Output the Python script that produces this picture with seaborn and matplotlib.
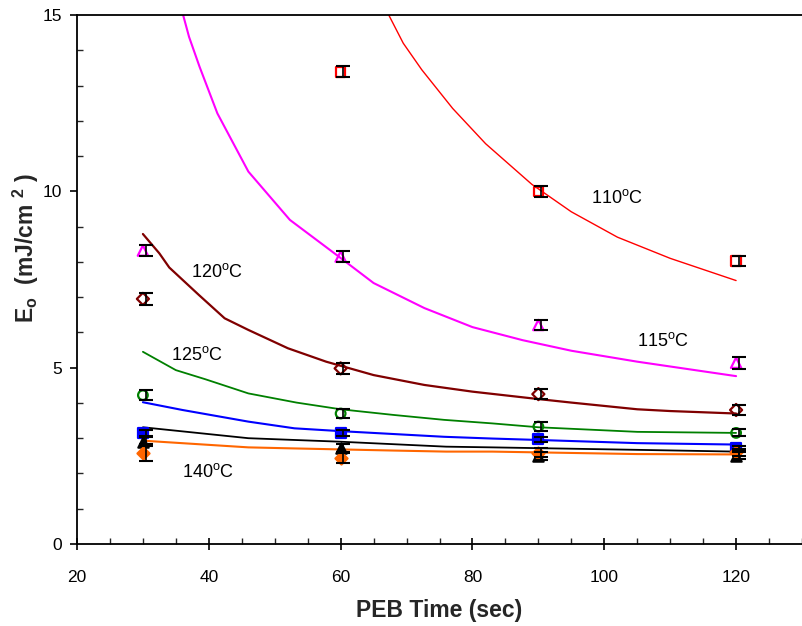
import numpy as np
import pandas as pd
import matplotlib
matplotlib.use("Agg")
import matplotlib.pyplot as plt
from matplotlib.ticker import MultipleLocator
import seaborn as sns

# ---------------- data ----------------
peb_time = [30, 60, 90, 120]

# measured points (mJ/cm2) and error half-widths
e110 = [np.nan, 13.39, 9.99, 8.02]
e115 = [8.32, 8.15, 6.21, 5.14]
e120 = [6.95, 4.98, 4.25, 3.80]
e125 = [4.22, 3.70, 3.33, 3.15]
e130 = [3.14, 3.14, 2.97, 2.72]
e135 = [2.90, 2.71, 2.50, 2.50]
e140 = [2.59, 2.45, 2.59, 2.60]

err110 = [0.0, 0.15, 0.15, 0.15]
err115 = [0.15, 0.16, 0.15, 0.17]
err120 = [0.16, 0.15, 0.15, 0.14]
err125 = [0.15, 0.14, 0.14, 0.10]
err130 = [0.08, 0.08, 0.07, 0.07]
err135 = [0.12, 0.12, 0.12, 0.10]
err140 = [0.25, 0.15, 0.12, 0.10]

# fitted curves
fit110_t = [67.3, 69.5, 72.3, 77.0, 82.0, 89.0, 95.0, 102.0, 110.0, 120.0]
fit110_e = [15.0, 14.2, 13.45, 12.35, 11.35, 10.2, 9.42, 8.7, 8.1, 7.47]
fit115_t = [36.1, 37.0, 38.6, 41.3, 46.0, 52.3, 60.0, 65.0, 72.7, 80.0, 87.6, 95.0, 105.0, 120.0]
fit115_e = [15.0, 14.38, 13.53, 12.21, 10.56, 9.19, 8.11, 7.40, 6.69, 6.15, 5.78, 5.48, 5.17, 4.76]
fit120_t = [30.0, 32.5, 34.0, 38.5, 42.4, 46.0, 52.0, 57.8, 65.0, 72.7, 80.0, 89.5, 95.0, 105.0, 110.0, 120.0]
fit120_e = [8.79, 8.24, 7.84, 7.06, 6.40, 6.07, 5.55, 5.17, 4.79, 4.51, 4.32, 4.12, 4.01, 3.82, 3.77, 3.70]
fit125_t = [30.0, 35.0, 39.5, 46.0, 53.3, 60.0, 68.0, 75.7, 83.0, 90.0, 105.0, 120.0]
fit125_e = [5.45, 4.93, 4.67, 4.27, 4.01, 3.82, 3.66, 3.52, 3.42, 3.31, 3.18, 3.15]
fit130_t = [30.0, 36.0, 46.0, 53.0, 60.0, 75.7, 83.0, 90.0, 105.0, 120.0]
fit130_e = [4.02, 3.80, 3.47, 3.28, 3.20, 3.04, 2.99, 2.95, 2.86, 2.82]
fit135_t = [30.0, 46.0, 53.0, 60.0, 76.0, 83.0, 105.0, 120.0]
fit135_e = [3.31, 3.00, 2.95, 2.90, 2.76, 2.74, 2.67, 2.62]
fit140_t = [30.0, 46.0, 53.0, 68.0, 76.0, 83.0, 105.0, 120.0]
fit140_e = [2.93, 2.74, 2.71, 2.65, 2.62, 2.62, 2.55, 2.54]

labels = ["110\u00baC", "115\u00baC", "120\u00baC", "125\u00baC", "140\u00baC"]

# ---------------- style ----------------
sns.set_theme(style="ticks")
plt.rcParams['font.family'] = ['Liberation Sans', 'DejaVu Sans']
plt.rcParams['mathtext.fontset'] = 'custom'
plt.rcParams['mathtext.rm'] = 'Liberation Sans'
plt.rcParams['mathtext.bf'] = 'Liberation Sans:bold'

fig = plt.figure(figsize=(8.02, 6.26), dpi=100)
ax = fig.add_axes([77 / 802, 82 / 626, (802 - 77) / 802, (544 - 15) / 626])

series = [
    (e110, err110, fit110_t, fit110_e, "#FF0000", "s", "none", 1.0),
    (e115, err115, fit115_t, fit115_e, "#FF00FF", "^", "none", 1.5),
    (e120, err120, fit120_t, fit120_e, "#800000", "D", "none", 1.6),
    (e125, err125, fit125_t, fit125_e, "#008000", "o", "none", 1.3),
    (e130, err130, fit130_t, fit130_e, "#0000FF", "s", "#0000FF", 1.5),
    (e135, err135, fit135_t, fit135_e, "#000000", "^", "#000000", 1.3),
    (e140, err140, fit140_t, fit140_e, "#FF6600", "D", "#FF6600", 1.5),
]

for vals, errs, ft, fe, col, mk, fc, lw in series:
    df_fit = pd.DataFrame({"t": ft, "e": fe})
    sns.lineplot(data=df_fit, x="t", y="e", color=col, lw=lw, sort=False,
                 estimator=None, ax=ax, legend=False)

for vals, errs, ft, fe, col, mk, fc, lw in series:
    df_pt = pd.DataFrame({"t": peb_time, "e": vals}).dropna()
    ms = 48 if mk in ("s", "o") else 55
    if mk == "D":
        ms = 38
    sns.scatterplot(data=df_pt, x="t", y="e", marker=mk, s=ms,
                    facecolor=fc if fc != "none" else "none",
                    edgecolor=col, linewidth=1.6, ax=ax, legend=False, zorder=3)
    mask = ~np.isnan(np.array(vals, dtype=float))
    t_err = np.array(peb_time, dtype=float)[mask] + 0.4
    ax.errorbar(t_err, np.array(vals, dtype=float)[mask],
                yerr=np.array(errs)[mask], fmt="none", ecolor="black",
                elinewidth=1.2, capsize=5, capthick=1.5, zorder=4)

ax.set_xlim(20, 130)
ax.set_ylim(0, 15)
ax.xaxis.set_major_locator(MultipleLocator(20))
ax.xaxis.set_minor_locator(MultipleLocator(5))
ax.yaxis.set_major_locator(MultipleLocator(5))
ax.yaxis.set_minor_locator(MultipleLocator(1))
ax.tick_params(axis="x", which="major", direction="inout", length=9, width=1.2,
               labelsize=12.5, pad=14, colors="black")
ax.tick_params(axis="x", which="minor", direction="in", length=4, width=1)
ax.tick_params(axis="y", which="major", direction="out", length=5, width=1.2,
               labelsize=12.5, pad=6, colors="black")
ax.tick_params(axis="y", which="minor", direction="in", length=4, width=1)

for s in ["left", "bottom", "top"]:
    ax.spines[s].set_color("black")
    ax.spines[s].set_linewidth(1.3)
ax.spines["right"].set_visible(False)

ax.set_xlabel("PEB Time (sec)", fontsize=16.5, fontweight="bold", labelpad=10)
ax.set_ylabel(r"E$_{\mathbf{o}}$  (mJ/cm $^{\mathbf{2}}$ )", fontsize=16.5,
              fontweight="bold")
ax.yaxis.set_label_coords(-0.05, 0.56)

for txt, (x, y) in zip(labels, [(617, 198), (663, 341), (217, 272), (197, 355), (208, 472)]):
    fx, fy = (x / 802, (626 - y) / 626)
    fig.text(fx, fy, txt.replace("\u00ba", "$^{\\rm o}$"), fontsize=13,
             ha="center", va="center", color="black")

fig.savefig("out.png", dpi=100)
